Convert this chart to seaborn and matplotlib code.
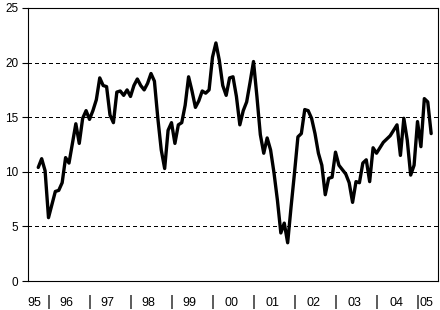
import numpy as np
import pandas as pd
import matplotlib
matplotlib.use("Agg")
import matplotlib.pyplot as plt
import seaborn as sns

# ---- data (monthly, Oct 1995 .. May 2005) ----
start_year = 1995
start_month = 10
values = [
    10.4, 11.2, 10.1, 5.8, 7.0, 8.2, 8.3, 9.0, 11.3, 10.8,
    12.6, 14.4, 12.6, 14.9, 15.6, 14.8, 15.6, 16.6, 18.6, 17.9,
    17.8, 15.2, 14.5, 17.3, 17.4, 17.0, 17.5, 16.9, 17.9, 18.5,
    17.9, 17.5, 18.1, 19.0, 18.3, 14.9, 12.0, 10.3, 13.8, 14.5,
    12.6, 14.3, 14.5, 16.1, 18.7, 17.4, 15.9, 16.5, 17.4, 17.2,
    17.5, 20.5, 21.8, 20.2, 17.9, 17.0, 18.6, 18.7, 16.9, 14.3,
    15.6, 16.4, 18.2, 20.1, 16.9, 13.4, 11.7, 13.1, 12.0, 9.9,
    7.4, 4.4, 5.3, 3.5, 6.8, 9.9, 13.2, 13.5, 15.7, 15.6,
    14.9, 13.5, 11.7, 10.6, 7.9, 9.4, 9.5, 11.8, 10.6, 10.2,
    9.8, 9.0, 7.2, 9.1, 9.0, 10.8, 11.1, 9.1, 12.2, 11.7,
    12.2, 12.7, 13.0, 13.3, 13.8, 14.3, 11.5, 14.9, 12.9, 9.7,
    10.6, 14.6, 12.3, 16.7, 16.4, 13.5,
]
year_labels = ["95", "96", "97", "98", "99", "00", "01", "02", "03", "04", "05"]
year_label_pos = [1995.66, 1996.43, 1997.43, 1998.43, 1999.43, 2000.46,
                  2001.46, 2002.46, 2003.46, 2004.48, 2005.21]
separator_pos = [1996, 1997, 1998, 1999, 2000, 2001, 2002, 2003, 2004, 2005]
y_ticks = [0, 5, 10, 15, 20, 25]

t = [start_year + (start_month - 1 + i) / 12.0 for i in range(len(values))]
df = pd.DataFrame({"t": t, "value": values})

sns.set_theme(style="white")
plt.rcParams["font.family"] = ["Liberation Sans", "DejaVu Sans"]

fig = plt.figure(figsize=(4.4, 3.1), dpi=100)
ax = fig.add_axes([28 / 440, 29 / 310, 410 / 440, 273 / 310])

ax.set_axisbelow(True)
for yv in y_ticks[1:-1]:
    ax.axhline(yv, color="black", linewidth=0.8, linestyle=(0, (2.7, 2.7)),
               antialiased=False, zorder=1)

sns.lineplot(data=df, x="t", y="value", ax=ax, color="black",
             linewidth=2.4, zorder=3)

ax.set_xlim(1995.5, 2005.5)
ax.set_ylim(0, 25)
ax.set_xlabel("")
ax.set_ylabel("")

for s in ax.spines.values():
    s.set_visible(True)
    s.set_color("black")
    s.set_linewidth(0.8)

ax.set_yticks(y_ticks)
ax.set_yticklabels([str(v) for v in y_ticks])
ax.tick_params(axis="y", direction="out", length=4, width=0.8, color="black",
               labelsize=8.5, pad=3, left=True, labelcolor="black")

ax.set_xticks(year_label_pos)
ax.set_xticklabels(year_labels)
ax.set_xticks(separator_pos, minor=True)
ax.set_xticklabels(["|"] * len(separator_pos), minor=True)
ax.tick_params(axis="x", which="major", length=0, labelsize=9, pad=11.5,
               labelcolor="black", bottom=True)
ax.tick_params(axis="x", which="minor", length=0, labelsize=11, pad=10,
               labelcolor="black", bottom=True)

fig.savefig("out.png", dpi=100)
